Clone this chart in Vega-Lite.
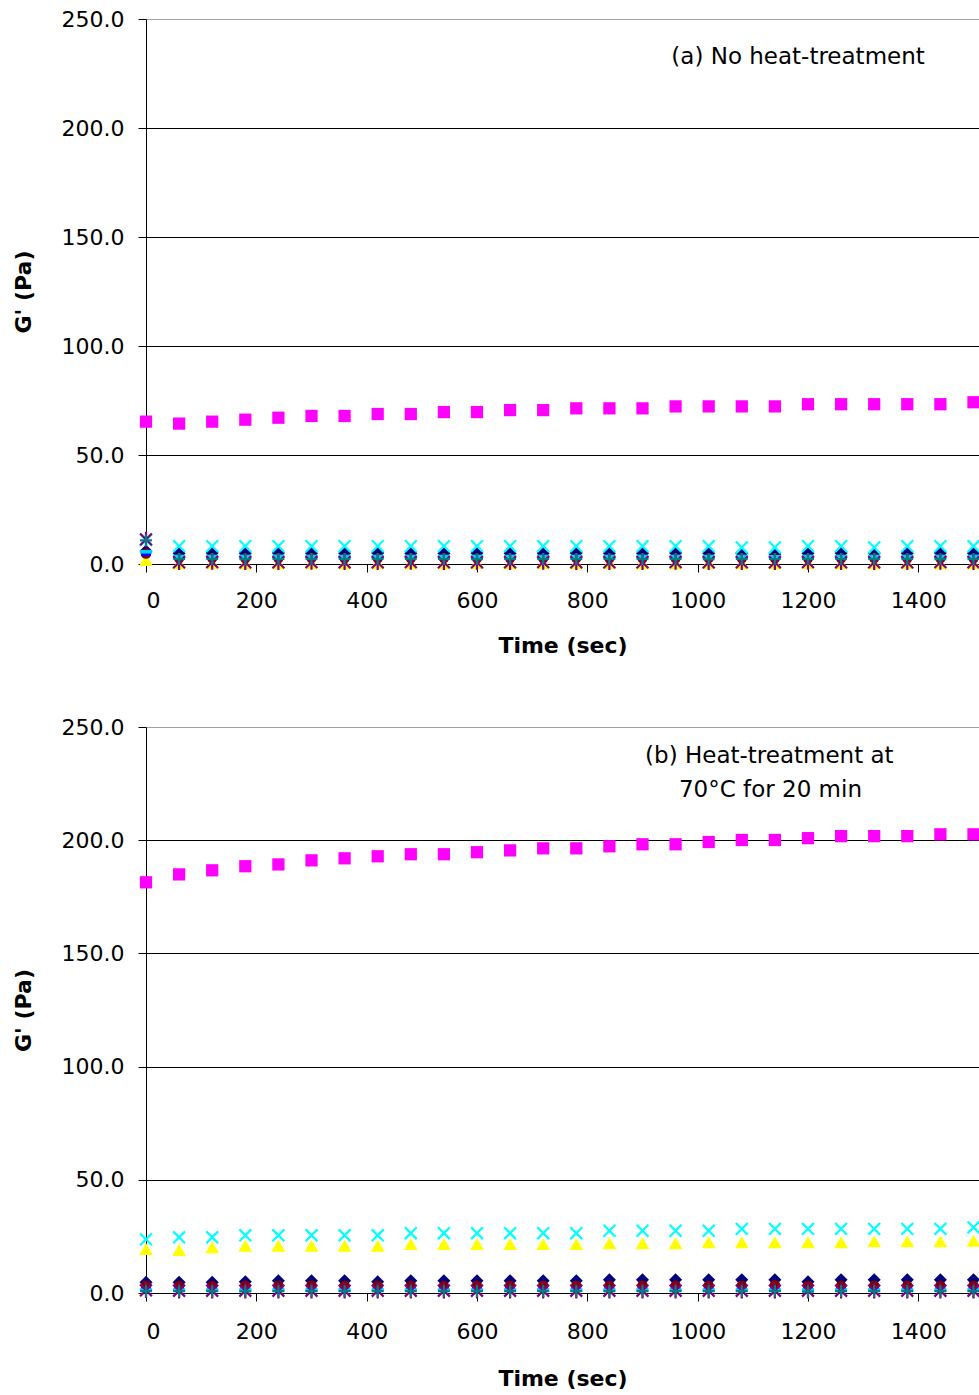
{
  "$schema": "https://vega.github.io/schema/vega-lite/v6.json",
  "background": "white",
  "padding": {"left": 12, "top": 8, "right": 0, "bottom": 0},
  "spacing": 60,
  "config": {
    "view": {"stroke": null},
    "font": "DejaVu Sans",
    "axis": {
      "labelFont": "DejaVu Sans", "labelFontSize": 22, "labelColor": "black",
      "titleFont": "DejaVu Sans", "titleFontSize": 22, "titleFontWeight": "bold", "titleColor": "black",
      "domainColor": "black", "tickColor": "black", "tickSize": 8, "domainWidth": 1, "tickWidth": 1,
      "labelOverlap": false
    }
  },
  "datasets": {
    "a": [
      {"t": 0, "d": 6.0, "m": 65.3, "y": 1.8, "x": 11.0, "s": 11.3, "c": 4.8, "p": 10.8, "b": 4.5, "l": 5.6},
      {"t": 60, "d": 4.9, "m": 64.4, "y": 0.3, "x": 8.2, "s": 0.8, "c": 2.6, "p": 2.3, "b": 3.0, "l": 3.4},
      {"t": 120, "d": 5.0, "m": 65.3, "y": 0.5, "x": 8.2, "s": 0.9, "c": 2.7, "p": 2.3, "b": 3.1, "l": 3.4},
      {"t": 180, "d": 4.9, "m": 66.2, "y": 0.3, "x": 8.2, "s": 0.8, "c": 2.6, "p": 2.2, "b": 3.0, "l": 3.4},
      {"t": 240, "d": 5.0, "m": 67.1, "y": 0.3, "x": 8.2, "s": 0.8, "c": 2.6, "p": 2.3, "b": 3.0, "l": 3.5},
      {"t": 300, "d": 4.9, "m": 67.9, "y": 0.5, "x": 8.2, "s": 0.9, "c": 2.7, "p": 2.3, "b": 3.1, "l": 3.4},
      {"t": 360, "d": 4.9, "m": 67.9, "y": 0.3, "x": 8.2, "s": 0.8, "c": 2.6, "p": 2.3, "b": 3.0, "l": 3.4},
      {"t": 420, "d": 5.0, "m": 68.8, "y": 0.5, "x": 8.2, "s": 0.8, "c": 2.6, "p": 2.3, "b": 3.0, "l": 3.4},
      {"t": 480, "d": 4.9, "m": 68.8, "y": 0.3, "x": 8.2, "s": 0.9, "c": 2.6, "p": 2.3, "b": 3.0, "l": 3.4},
      {"t": 540, "d": 4.9, "m": 69.7, "y": 0.3, "x": 8.2, "s": 0.8, "c": 2.7, "p": 2.3, "b": 3.0, "l": 3.4},
      {"t": 600, "d": 5.0, "m": 69.7, "y": 0.5, "x": 8.2, "s": 0.8, "c": 2.6, "p": 2.2, "b": 3.1, "l": 3.4},
      {"t": 660, "d": 4.9, "m": 70.6, "y": 0.3, "x": 8.2, "s": 0.8, "c": 2.6, "p": 2.3, "b": 3.0, "l": 3.4},
      {"t": 720, "d": 4.9, "m": 70.6, "y": 0.5, "x": 8.2, "s": 0.9, "c": 2.6, "p": 2.3, "b": 3.0, "l": 3.4},
      {"t": 780, "d": 5.0, "m": 71.4, "y": 0.3, "x": 8.2, "s": 0.8, "c": 2.7, "p": 2.3, "b": 3.0, "l": 3.4},
      {"t": 840, "d": 4.9, "m": 71.4, "y": 0.5, "x": 8.2, "s": 0.8, "c": 2.6, "p": 2.3, "b": 3.0, "l": 3.4},
      {"t": 900, "d": 4.9, "m": 71.4, "y": 0.3, "x": 8.2, "s": 0.8, "c": 2.6, "p": 2.3, "b": 3.1, "l": 3.4},
      {"t": 960, "d": 5.0, "m": 72.3, "y": 0.3, "x": 8.2, "s": 0.9, "c": 2.6, "p": 2.3, "b": 3.0, "l": 3.4},
      {"t": 1020, "d": 4.9, "m": 72.3, "y": 0.5, "x": 8.2, "s": 0.8, "c": 2.7, "p": 2.2, "b": 3.0, "l": 3.4},
      {"t": 1080, "d": 4.9, "m": 72.3, "y": 0.3, "x": 7.6, "s": 0.8, "c": 2.6, "p": 2.3, "b": 3.0, "l": 3.4},
      {"t": 1140, "d": 4.6, "m": 72.3, "y": 0.3, "x": 7.6, "s": 0.8, "c": 2.6, "p": 2.3, "b": 3.0, "l": 3.3},
      {"t": 1200, "d": 4.9, "m": 73.3, "y": 0.5, "x": 8.2, "s": 0.9, "c": 2.6, "p": 2.3, "b": 3.0, "l": 3.4},
      {"t": 1260, "d": 5.0, "m": 73.3, "y": 0.3, "x": 8.2, "s": 0.8, "c": 2.6, "p": 2.3, "b": 3.1, "l": 3.4},
      {"t": 1320, "d": 4.9, "m": 73.3, "y": 0.3, "x": 7.6, "s": 0.8, "c": 2.7, "p": 2.3, "b": 3.0, "l": 3.4},
      {"t": 1380, "d": 4.9, "m": 73.3, "y": 0.5, "x": 8.2, "s": 0.8, "c": 2.6, "p": 2.3, "b": 3.0, "l": 3.4},
      {"t": 1440, "d": 5.0, "m": 73.3, "y": 0.3, "x": 8.2, "s": 0.9, "c": 2.6, "p": 2.2, "b": 3.0, "l": 3.4},
      {"t": 1500, "d": 4.9, "m": 74.2, "y": 0.3, "x": 8.2, "s": 0.8, "c": 2.6, "p": 2.3, "b": 3.0, "l": 3.4}
    ],
    "b": [
      {"t": 0, "d": 4.7, "m": 181.4, "y": 19.4, "x": 23.7, "s": 1.2, "c": 3.2, "p": 0.8, "b": 1.5, "l": 1.3},
      {"t": 60, "d": 4.7, "m": 184.9, "y": 19.0, "x": 24.6, "s": 1.0, "c": 3.2, "p": 0.8, "b": 1.5, "l": 1.3},
      {"t": 120, "d": 4.7, "m": 186.7, "y": 20.2, "x": 24.6, "s": 1.0, "c": 3.1, "p": 0.8, "b": 1.5, "l": 1.3},
      {"t": 180, "d": 5.0, "m": 188.5, "y": 20.9, "x": 25.5, "s": 1.0, "c": 3.2, "p": 0.7, "b": 1.5, "l": 1.3},
      {"t": 240, "d": 5.4, "m": 189.3, "y": 20.9, "x": 25.5, "s": 1.0, "c": 3.2, "p": 0.8, "b": 1.5, "l": 1.3},
      {"t": 300, "d": 5.4, "m": 191.1, "y": 20.9, "x": 25.5, "s": 1.0, "c": 3.3, "p": 0.8, "b": 1.5, "l": 1.3},
      {"t": 360, "d": 5.4, "m": 192.0, "y": 20.9, "x": 25.5, "s": 1.0, "c": 3.2, "p": 0.8, "b": 1.5, "l": 1.3},
      {"t": 420, "d": 5.0, "m": 192.9, "y": 20.9, "x": 25.5, "s": 1.0, "c": 3.2, "p": 0.8, "b": 1.5, "l": 1.3},
      {"t": 480, "d": 5.4, "m": 193.8, "y": 21.6, "x": 26.4, "s": 1.0, "c": 3.2, "p": 0.8, "b": 1.5, "l": 1.3},
      {"t": 540, "d": 5.4, "m": 193.8, "y": 21.6, "x": 26.4, "s": 1.0, "c": 3.1, "p": 0.8, "b": 1.5, "l": 1.3},
      {"t": 600, "d": 5.4, "m": 194.7, "y": 21.6, "x": 26.4, "s": 1.0, "c": 3.2, "p": 0.8, "b": 1.5, "l": 1.3},
      {"t": 660, "d": 5.4, "m": 195.5, "y": 21.6, "x": 26.4, "s": 1.0, "c": 3.2, "p": 0.8, "b": 1.5, "l": 1.3},
      {"t": 720, "d": 5.4, "m": 196.4, "y": 21.6, "x": 26.4, "s": 1.0, "c": 3.2, "p": 0.8, "b": 1.5, "l": 1.3},
      {"t": 780, "d": 5.4, "m": 196.4, "y": 21.6, "x": 26.4, "s": 1.0, "c": 3.2, "p": 0.8, "b": 1.5, "l": 1.3},
      {"t": 840, "d": 5.8, "m": 197.3, "y": 22.0, "x": 27.5, "s": 1.0, "c": 3.2, "p": 0.8, "b": 1.5, "l": 1.3},
      {"t": 900, "d": 5.8, "m": 198.2, "y": 22.0, "x": 27.5, "s": 1.0, "c": 3.3, "p": 0.8, "b": 1.5, "l": 1.3},
      {"t": 960, "d": 5.8, "m": 198.2, "y": 22.0, "x": 27.5, "s": 1.0, "c": 3.2, "p": 0.8, "b": 1.5, "l": 1.3},
      {"t": 1020, "d": 5.8, "m": 199.2, "y": 22.4, "x": 27.5, "s": 1.0, "c": 3.2, "p": 0.8, "b": 1.3, "l": 1.3},
      {"t": 1080, "d": 5.8, "m": 200.1, "y": 22.4, "x": 28.3, "s": 1.0, "c": 3.2, "p": 0.8, "b": 1.5, "l": 1.3},
      {"t": 1140, "d": 5.8, "m": 200.1, "y": 22.4, "x": 28.3, "s": 1.0, "c": 3.5, "p": 0.8, "b": 1.5, "l": 1.3},
      {"t": 1200, "d": 5.0, "m": 200.9, "y": 22.4, "x": 28.3, "s": 1.0, "c": 3.2, "p": 0.6, "b": 1.5, "l": 1.3},
      {"t": 1260, "d": 5.8, "m": 201.8, "y": 22.4, "x": 28.3, "s": 1.0, "c": 3.2, "p": 0.8, "b": 1.5, "l": 1.3},
      {"t": 1320, "d": 5.8, "m": 201.8, "y": 22.8, "x": 28.3, "s": 1.0, "c": 3.2, "p": 0.8, "b": 1.5, "l": 1.3},
      {"t": 1380, "d": 5.8, "m": 201.8, "y": 22.8, "x": 28.3, "s": 1.0, "c": 3.2, "p": 0.8, "b": 1.5, "l": 1.3},
      {"t": 1440, "d": 5.8, "m": 202.6, "y": 22.8, "x": 28.3, "s": 1.0, "c": 3.2, "p": 0.8, "b": 1.5, "l": 1.3},
      {"t": 1500, "d": 5.8, "m": 202.6, "y": 23.1, "x": 29.0, "s": 1.0, "c": 3.2, "p": 0.8, "b": 1.5, "l": 1.3}
    ],
    "notesA": [
      {"t": 1182, "g": 232.6, "txt": "(a) No heat-treatment"}
    ],
    "notesB": [
      {"t": 1130, "g": 237.2, "txt": "(b) Heat-treatment at"},
      {"t": 1132, "g": 222.2, "txt": "70°C for 20 min"}
    ]
  },
  "vconcat": [
    {
      "width": 833,
      "height": 545,
      "data": {"name": "a"},
      "encoding": {
        "x": {"field": "t", "type": "quantitative", "scale": {"domain": [0, 1510], "nice": false, "zero": false},
          "axis": {"values": [0, 200, 400, 600, 800, 1000, 1200, 1400], "format": "d", "grid": false, "title": "Time (sec)", "labelPadding": 18, "titlePadding": 24}},
        "y": {"field": "g", "type": "quantitative", "scale": {"domain": [0, 250], "nice": false},
          "axis": {"values": [0, 50, 100, 150, 200, 250], "format": ".1f", "title": "G' (Pa)", "labelPadding": 14, "titlePadding": 26,
            "grid": true, "gridWidth": 1, "gridColor": {"condition": {"test": "datum.value == 250", "value": "#a0a0a0"}, "value": "black"}}}
      },
      "layer": [
        {
          "transform": [{"fold": ["d", "m", "y", "c", "b", "l"], "as": ["series", "g"]}],
          "mark": {"type": "point", "filled": true, "opacity": 1, "strokeWidth": 0},
          "encoding": {
            "shape": {"field": "series", "type": "nominal", "legend": null,
              "scale": {"domain": ["d", "m", "y", "x", "s", "c", "p", "b", "l"],
                "range": ["diamond", "square", "triangle-up", "M-1,-1L1,1M-1,1L1,-1", "M-1,-1L1,1M-1,1L1,-1M0,-1.3L0,1.3", "circle", "M-1,0L1,0M0,-1L0,1", "M-0.8,-0.3L0.8,-0.3L0.8,0.3L-0.8,0.3Z", "M-1,-0.3L1,-0.3L1,0.3L-1,0.3Z"]}},
            "color": {"field": "series", "type": "nominal", "legend": null,
              "scale": {"domain": ["d", "m", "y", "x", "s", "c", "p", "b", "l"],
                "range": ["#000080", "#FF00FF", "#FFFF00", "#00FFFF", "#800080", "#800000", "#008080", "#0000FF", "#00CCFF"]}},
            "size": {"condition": [
              {"test": "datum.series == 'y'", "value": 190},
              {"test": "datum.series == 'd'", "value": 170},
              {"test": "datum.series == 'c'", "value": 110}
            ], "value": 150}
          }
        },
        {
          "transform": [{"fold": ["x", "s", "p"], "as": ["series", "g"]}],
          "mark": {"type": "point", "filled": false, "opacity": 1, "strokeWidth": 2.2, "size": 140},
          "encoding": {
            "shape": {"field": "series", "type": "nominal", "legend": null},
            "color": {"field": "series", "type": "nominal", "legend": null}
          }
        },
        {
          "data": {"name": "notesA"},
          "mark": {"type": "text", "font": "DejaVu Sans", "fontSize": 23, "color": "black", "align": "center", "baseline": "middle"},
          "encoding": {"text": {"field": "txt"}}
        }
      ]
    },
    {
      "width": 833,
      "height": 566,
      "data": {"name": "b"},
      "encoding": {
        "x": {"field": "t", "type": "quantitative", "scale": {"domain": [0, 1510], "nice": false, "zero": false},
          "axis": {"values": [0, 200, 400, 600, 800, 1000, 1200, 1400], "format": "d", "grid": false, "title": "Time (sec)", "labelPadding": 20, "titlePadding": 26}},
        "y": {"field": "g", "type": "quantitative", "scale": {"domain": [0, 250], "nice": false},
          "axis": {"values": [0, 50, 100, 150, 200, 250], "format": ".1f", "title": "G' (Pa)", "labelPadding": 14, "titlePadding": 26,
            "grid": true, "gridWidth": 1, "gridColor": {"condition": {"test": "datum.value == 250", "value": "#a0a0a0"}, "value": "black"}}}
      },
      "layer": [
        {
          "transform": [{"fold": ["d", "m", "y", "c", "b", "l"], "as": ["series", "g"]}],
          "mark": {"type": "point", "filled": true, "opacity": 1, "strokeWidth": 0},
          "encoding": {
            "shape": {"field": "series", "type": "nominal", "legend": null,
              "scale": {"domain": ["d", "m", "y", "x", "s", "c", "p", "b", "l"],
                "range": ["diamond", "square", "triangle-up", "M-1,-1L1,1M-1,1L1,-1", "M-1,-1L1,1M-1,1L1,-1M0,-1.3L0,1.3", "circle", "M-1,0L1,0M0,-1L0,1", "M-0.8,-0.3L0.8,-0.3L0.8,0.3L-0.8,0.3Z", "M-1,-0.3L1,-0.3L1,0.3L-1,0.3Z"]}},
            "color": {"field": "series", "type": "nominal", "legend": null,
              "scale": {"domain": ["d", "m", "y", "x", "s", "c", "p", "b", "l"],
                "range": ["#000080", "#FF00FF", "#FFFF00", "#00FFFF", "#800080", "#800000", "#008080", "#0000FF", "#00CCFF"]}},
            "size": {"condition": [
              {"test": "datum.series == 'y'", "value": 190},
              {"test": "datum.series == 'd'", "value": 170},
              {"test": "datum.series == 'c'", "value": 110}
            ], "value": 150}
          }
        },
        {
          "transform": [{"fold": ["x", "s", "p"], "as": ["series", "g"]}],
          "mark": {"type": "point", "filled": false, "opacity": 1, "strokeWidth": 2.2, "size": 140},
          "encoding": {
            "shape": {"field": "series", "type": "nominal", "legend": null},
            "color": {"field": "series", "type": "nominal", "legend": null}
          }
        },
        {
          "data": {"name": "notesB"},
          "mark": {"type": "text", "font": "DejaVu Sans", "fontSize": 23, "color": "black", "align": "center", "baseline": "middle"},
          "encoding": {"text": {"field": "txt"}}
        }
      ]
    }
  ]
}
